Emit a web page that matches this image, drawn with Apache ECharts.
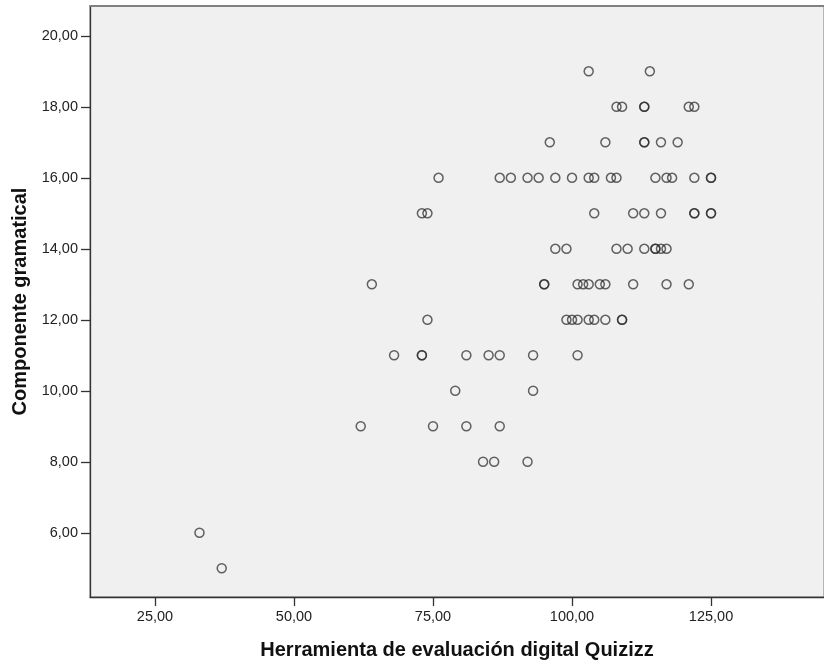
<!DOCTYPE html>
<html>
<head>
<meta charset="utf-8">
<script src="https://cdn.jsdelivr.net/npm/echarts@6/dist/echarts.min.js"></script>
<style>
html,body{margin:0;padding:0;background:#fff;}
#chart{width:824px;height:665px;}
</style>
</head>
<body>
<div id="chart"></div>
<script>
// Herramienta de evaluación digital Quizizz (x) vs Componente gramatical (y)
const quizizz = [
  103,114,
  108,109,113,113,121,122,
  96,106,113,113,116,119,
  76,87,89,92,94,97,100,103,104,107,108,115,117,118,122,125,125,
  73,74,104,111,113,116,122,122,125,125,
  97,99,108,110,113,115,115,116,117,
  64,95,95,101,102,103,105,106,111,117,121,
  74,99,100,101,103,104,106,109,109,
  68,73,73,81,85,87,93,101,
  79,93,
  62,75,81,87,
  84,86,92,
  33,
  37
];
const gramatical = [
  19,19,
  18,18,18,18,18,18,
  17,17,17,17,17,17,
  16,16,16,16,16,16,16,16,16,16,16,16,16,16,16,16,16,
  15,15,15,15,15,15,15,15,15,15,
  14,14,14,14,14,14,14,14,14,
  13,13,13,13,13,13,13,13,13,13,13,
  12,12,12,12,12,12,12,12,12,
  11,11,11,11,11,11,11,11,
  10,10,
  9,9,9,9,
  8,8,8,
  6,
  5
];
const xTicks = [25, 50, 75, 100, 125];
const yTicks = [6, 8, 10, 12, 14, 16, 18, 20];
const xTitle = 'Herramienta de evaluación digital Quizizz';
const yTitle = 'Componente gramatical';

const points = quizizz.map((v, i) => [v, gramatical[i]]);
const fmt = v => v.toFixed(2).replace('.', ',');
const font = '"Liberation Sans", Arial, sans-serif';

const chart = echarts.init(document.getElementById('chart'), null, {renderer: 'canvas'});
chart.setOption({
  animation: false,
  backgroundColor: '#ffffff',
  grid: {
    left: 90, top: 6, right: 0, bottom: 66,
    show: true,
    backgroundColor: '#f0f0f0',
    borderColor: '#7a7a7a',
    borderWidth: 1
  },
  xAxis: [{
    type: 'value',
    min: 13.31, max: 145.32,
    splitLine: {show: false},
    axisLine: {show: true, onZero: false, lineStyle: {color: '#333', width: 1.3}},
    axisTick: {show: true, length: 9, customValues: xTicks, lineStyle: {color: '#333', width: 1.3}},
    axisLabel: {customValues: xTicks, formatter: fmt, color: '#222', fontFamily: font, fontSize: 14.5, margin: 12},
    name: xTitle,
    nameLocation: 'middle',
    nameGap: 43,
    nameTextStyle: {fontFamily: font, fontSize: 20, fontWeight: 'bold', color: '#111'}
  }, {
    type: 'value', position: 'top',
    min: 13.31, max: 145.32,
    splitLine: {show: false},
    axisLine: {show: true, lineStyle: {color: '#808080', width: 2}},
    axisTick: {show: false},
    axisLabel: {show: false}
  }],
  yAxis: {
    type: 'value',
    min: 4.19, max: 20.84,
    splitLine: {show: false},
    axisLine: {show: true, onZero: false, lineStyle: {color: '#333', width: 1.3}},
    axisTick: {show: true, length: 9, customValues: yTicks, lineStyle: {color: '#333', width: 1.3}},
    axisLabel: {customValues: yTicks, formatter: fmt, color: '#222', fontFamily: font, fontSize: 14.5, margin: 12},
    name: yTitle,
    nameLocation: 'middle',
    nameGap: 57,
    nameRotate: 90,
    nameTextStyle: {fontFamily: font, fontSize: 20, fontWeight: 'bold', color: '#111'}
  },
  series: [{
    type: 'scatter',
    xAxisIndex: 0,
    data: points,
    symbol: 'circle',
    symbolSize: 9,
    itemStyle: {color: 'rgba(0,0,0,0)', borderColor: 'rgba(40,40,40,0.9)', borderWidth: 1.5}
  }]
});
</script>
</body>
</html>
